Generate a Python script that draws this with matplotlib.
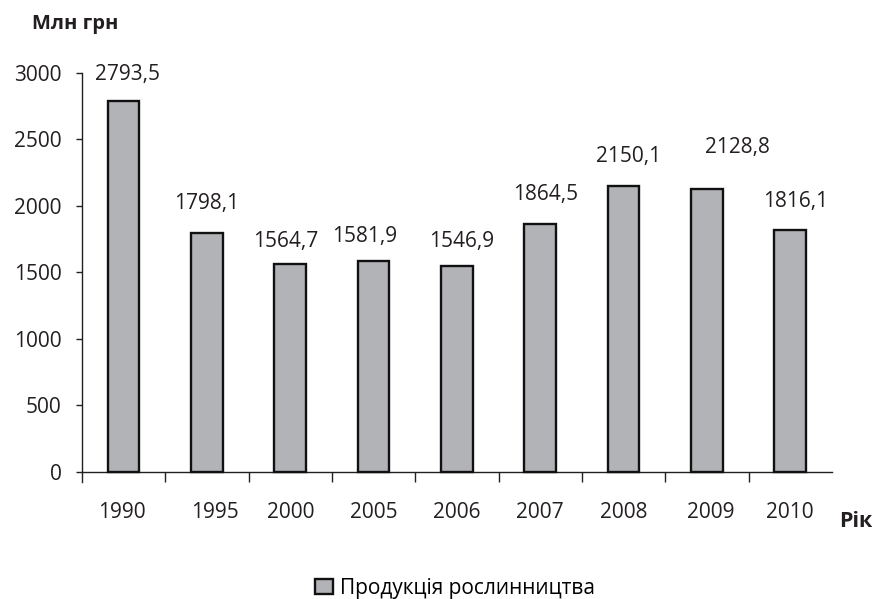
import matplotlib.pyplot as plt
import numpy as np

plt.rcParams['font.family'] = ['Open Sans', 'DejaVu Sans']
plt.rcParams.update({'font.size': 15})

# Продукція рослинництва, млн грн
years = ['1990', '1995', '2000', '2005', '2006', '2007', '2008', '2009', '2010']
values = [2793.5, 1798.1, 1564.7, 1581.9, 1546.9, 1864.5, 2150.1, 2128.8, 1816.1]
series_name = 'Продукція рослинництва'

# value label offsets from bar top (points), Excel put some of them aside
label_dx = [2.7, 0, -3.6, -6.5, 3.6, 3.6, 3.6, 22, 3.6]
label_dy = [18.7, 21, 16.3, 18, 18, 21, 21, 30, 21]
# year labels are not all centred under their bars
year_dx = [-1.5, 5.5, 0, 0, 0, 0, 0, 2.5, 0]

ink = '#231f20'

fig = plt.figure(figsize=(8.72, 5.99), dpi=100)
ax = fig.add_axes([0.094, 0.195, 0.86, 0.683])

x = np.arange(len(years))
bars = ax.bar(x, values, width=0.38, color='#b2b3b6', edgecolor='#111111',
              linewidth=1.7, label=series_name, zorder=3)

for xi, v, dx, dy in zip(x, values, label_dx, label_dy):
    ax.annotate(f'{v:.1f}'.replace('.', ','), (xi, v), xytext=(dx, dy),
                textcoords='offset points', ha='center', va='center',
                fontsize=15, color=ink)

ax.set_xlim(-0.5, len(years) - 0.5)
ax.set_ylim(-80, 3000)
ax.set_yticks(np.arange(0, 3001, 500))
ax.tick_params(axis='y', direction='out', length=4.5, width=1, pad=10,
               colors=ink, labelsize=15)

# tick marks go on the boundaries between categories
ax.spines['bottom'].set_position(('data', 0))
ax.set_xticks(np.arange(0.5, len(years) - 0.5, 1))
ax.set_xticklabels([])
ax.tick_params(axis='x', direction='out', length=7, width=1, colors=ink)

for xi, yr, dx in zip(x, years, year_dx):
    ax.annotate(yr, (xi, 0), xytext=(dx, -29.5), textcoords='offset points',
                ha='center', va='center', fontsize=15, color=ink,
                annotation_clip=False)

for side in ['top', 'right']:
    ax.spines[side].set_visible(False)
for side in ['left', 'bottom']:
    ax.spines[side].set_color(ink)
    ax.spines[side].set_linewidth(1)

fig.text(0.037, 0.96, 'Млн грн', fontsize=14.5, fontweight='bold',
         color=ink, va='center', ha='left')
fig.text(0.962, 0.13, 'Рік', fontsize=15.5, fontweight='bold',
         color=ink, va='center', ha='left')

fig.legend(handles=[bars], labels=[series_name], loc='center',
           bbox_to_anchor=(0.522, 0.018), frameon=False, fontsize=15,
           handlelength=0.85, handleheight=0.75, handletextpad=0.35,
           borderpad=0)

plt.savefig('out.png', dpi=100)
